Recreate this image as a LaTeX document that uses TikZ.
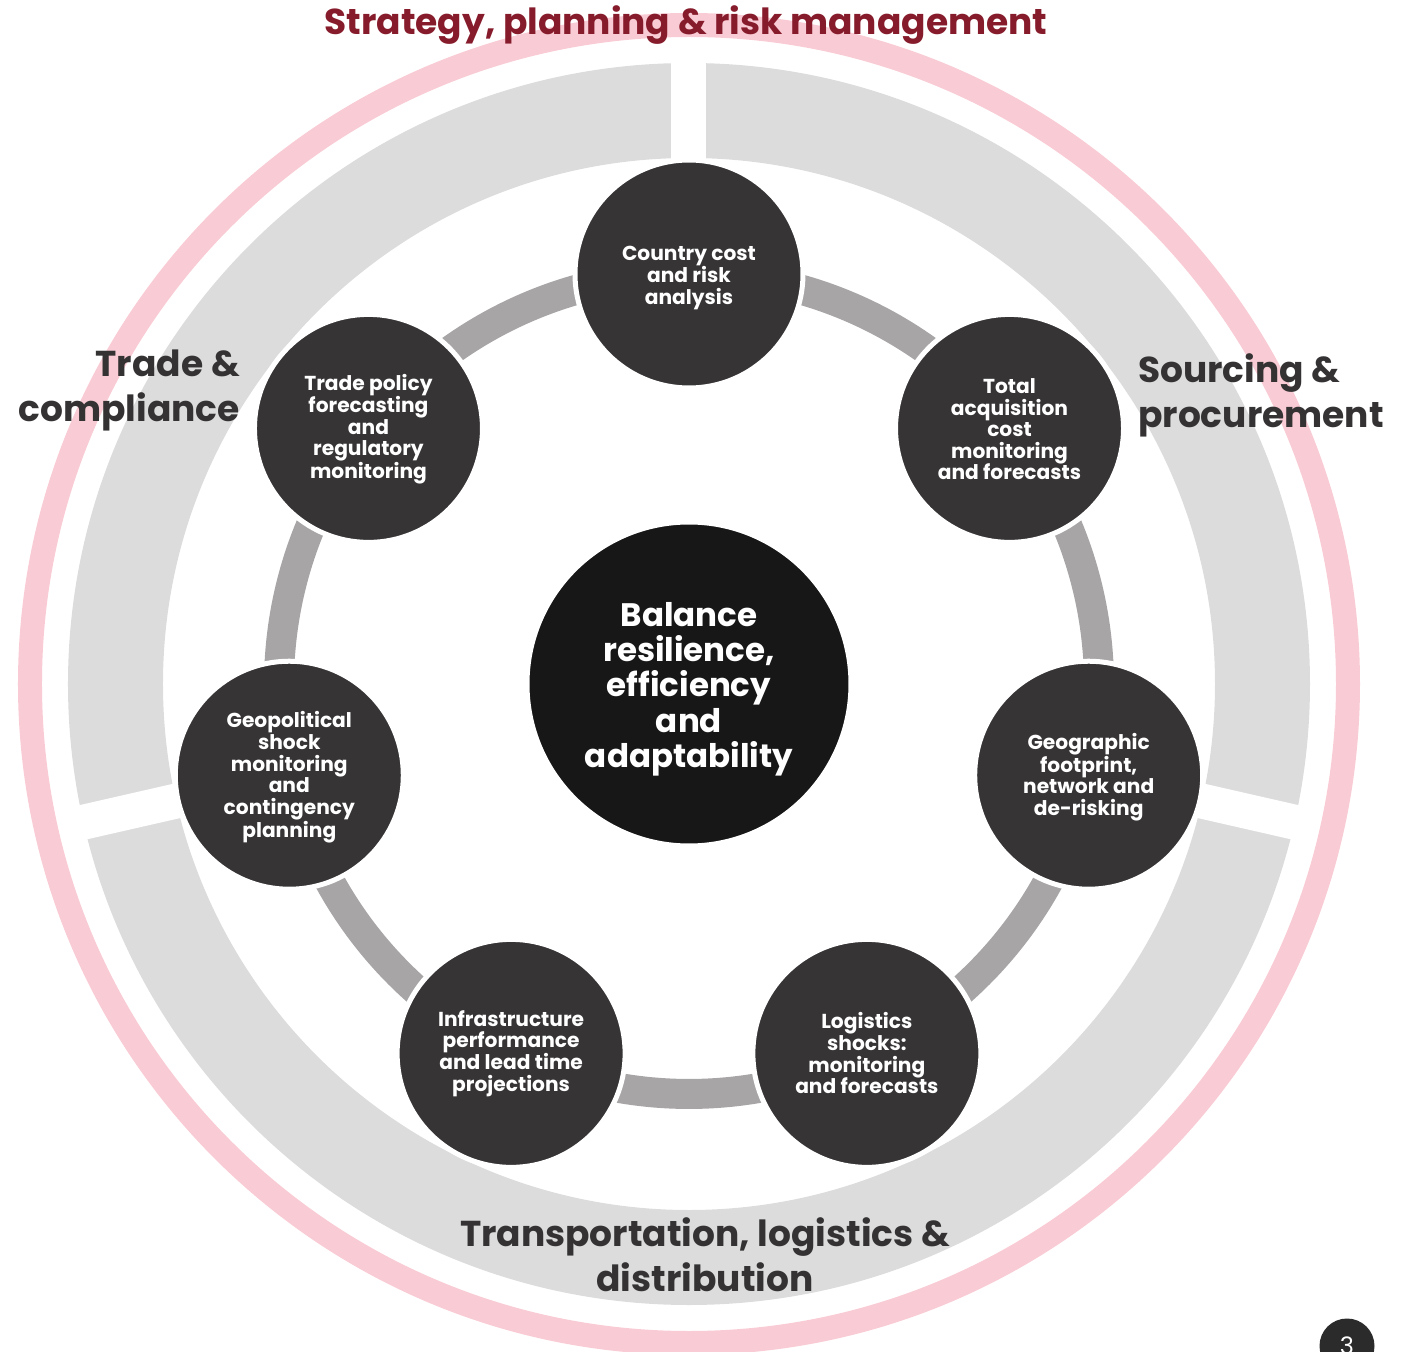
\documentclass[tikz,border=0pt]{standalone}
\usepackage{fontspec}
\setmainfont{Poppins}
\usetikzlibrary{backgrounds}
\definecolor{ringgray}{HTML}{DCDCDC}
\definecolor{conngray}{HTML}{A7A5A6}
\definecolor{bubble}{HTML}{363435}
\definecolor{corefill}{HTML}{181717}
\definecolor{pinkring}{HTML}{F9CBD4}
\definecolor{titlered}{HTML}{861B2B}
\definecolor{labelgray}{HTML}{343233}
\definecolor{pagedot}{HTML}{2B2B2B}
\tikzset{
  bubblenode/.style={circle, fill=bubble, draw=white, line width=5pt, minimum size=228pt, inner sep=0pt},
  bubbletext/.style={text=white, align=center, inner sep=0pt, font=\fontsize{20.2}{21.6}\selectfont\bfseries},
  corenode/.style={circle, fill=corefill, draw=white, line width=3pt, minimum size=322pt, inner sep=0pt},
  coretext/.style={text=white, align=center, inner sep=0pt, font=\fontsize{32.5}{35.3}\selectfont\bfseries},
  conn/.style={conngray, line width=30pt},
  bandgap/.style={white, line width=35pt},
  sectorlabel/.style={text=labelgray, font=\fontsize{36}{45}\selectfont\bfseries, inner sep=0pt},
}
\begin{document}
\begin{tikzpicture}[x=1pt,y=1pt]
\useasboundingbox (-689,-668) rectangle (725,684);
% core and bubbles
\node[corenode] (core) at (0,0) {};
\node[coretext] (coretxt) at ([yshift=-5pt]core.center) {Balance\\resilience,\\efficiency\\and\\adaptability};
\node[bubblenode] (b1) at (90:410) {};
\node[bubblenode] (b2) at (38.571:410) {};
\node[bubblenode] (b3) at (-12.857:410) {};
\node[bubblenode] (b4) at (-64.286:410) {};
\node[bubblenode] (b5) at (-115.714:410) {};
\node[bubblenode] (b6) at (-167.143:410) {};
\node[bubblenode] (b7) at (141.429:410) {};
\node[bubbletext] (t1) at ([yshift=-4pt]b1.center) {Country cost\\and risk\\analysis};
\node[bubbletext] (t2) at ([yshift=-1pt]b2.center) {Total\\acquisition\\cost\\monitoring\\and forecasts};
\node[bubbletext] (t3) at ([yshift=-2pt]b3.center) {Geographic\\footprint,\\network and\\de-risking};
\node[bubbletext] (t4) at ([yshift=0pt]b4.center) {Logistics\\shocks:\\monitoring\\and forecasts};
\node[bubbletext] (t5) at ([yshift=0pt]b5.center) {Infrastructure\\performance\\and lead time\\projections};
\node[bubbletext] (t6) at ([yshift=-2pt]b6.center) {Geopolitical\\shock\\monitoring\\and\\contingency\\planning};
\node[bubbletext] (t7) at ([yshift=-1pt]b7.center) {Trade policy\\forecasting\\and\\regulatory\\monitoring};
\begin{scope}[on background layer]
  % gray sector band
  \fill[ringgray, even odd rule] (0,0) circle (621) (0,0) circle (526);
  \draw[bandgap] (90:515) -- (90:632);
  \draw[bandgap] (-12.857:515) -- (-12.857:632);
  \draw[bandgap] (192.857:515) -- (192.857:632);
  % pink outer ring
  \draw[pinkring, line width=24pt] (0,0) circle (659);
  % connector ring
  \draw[conn] (b1.center) arc[start angle=90, end angle=38.571, radius=410];
  \draw[conn] (b2.center) arc[start angle=38.571, end angle=-12.857, radius=410];
  \draw[conn] (b3.center) arc[start angle=-12.857, end angle=-64.286, radius=410];
  \draw[conn] (b4.center) arc[start angle=-64.286, end angle=-115.714, radius=410];
  \draw[conn] (b5.center) arc[start angle=-115.714, end angle=-167.143, radius=410];
  \draw[conn] (b6.center) arc[start angle=-167.143, end angle=-218.571, radius=410];
  \draw[conn] (b7.center) arc[start angle=141.429, end angle=90, radius=410];
\end{scope}
% titles
\node[text=titlered, font=\fontsize{36}{40}\selectfont\bfseries, inner sep=0pt] (title) at (-3,659) {Strategy, planning \& risk management};
\node[sectorlabel, align=right, anchor=east] (trade) at (-449,294) {Trade \&\\compliance};
\node[sectorlabel, align=left, anchor=west] (sourcing) at (449,289) {Sourcing \&\\procurement};
\node[sectorlabel, align=center] (transport) at (16,-571) {Transportation, logistics \&\\distribution};
% page marker
\node[circle, fill=pagedot, minimum size=55pt, inner sep=0pt, text=white, font=\fontsize{24}{24}\selectfont] (page) at (658,-662) {3};
\end{tikzpicture}
\end{document}
